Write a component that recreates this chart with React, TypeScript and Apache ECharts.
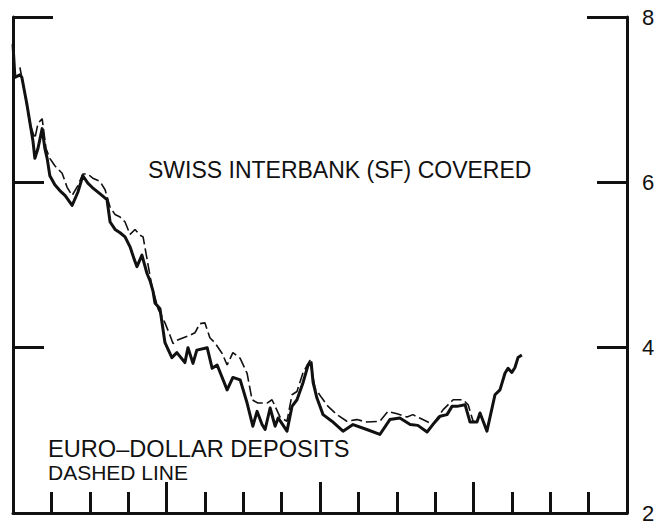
import React, { useEffect, useRef } from "react";
import * as echarts from "echarts";

// x: quarters from start (0..16), y: percent
const swissCovered: [number, number][] = [
  [0.0, 7.67], [0.05, 7.27], [0.18, 7.3], [0.23, 7.27], [0.36, 6.95], [0.52, 6.5], [0.57, 6.29],
  [0.65, 6.41], [0.76, 6.65], [0.83, 6.41], [0.89, 6.29], [0.96, 6.08], [1.09, 5.97], [1.22, 5.9],
  [1.36, 5.84], [1.54, 5.72], [1.69, 5.88], [1.82, 6.08], [1.95, 5.99], [2.06, 5.94], [2.27, 5.86],
  [2.45, 5.79], [2.53, 5.52], [2.66, 5.43], [2.79, 5.39], [2.92, 5.34], [3.05, 5.22], [3.15, 5.08],
  [3.23, 4.98], [3.36, 5.12], [3.49, 4.9], [3.57, 4.81], [3.65, 4.68], [3.7, 4.54], [3.83, 4.47],
  [3.96, 4.06], [4.14, 3.88], [4.27, 3.94], [4.48, 3.82], [4.56, 4.0], [4.69, 3.81], [4.79, 3.97],
  [5.06, 4.0], [5.19, 3.75], [5.32, 3.79], [5.58, 3.49], [5.73, 3.64], [5.92, 3.61], [6.1, 3.33],
  [6.25, 3.05], [6.36, 3.23], [6.49, 3.07], [6.57, 3.01], [6.7, 3.27], [6.83, 3.05], [6.91, 3.15],
  [7.14, 2.99], [7.27, 3.29], [7.4, 3.37], [7.56, 3.58], [7.69, 3.79], [7.77, 3.82], [7.82, 3.58],
  [7.92, 3.39], [8.08, 3.19], [8.31, 3.11], [8.6, 2.99], [8.86, 3.07], [9.22, 3.01], [9.56, 2.95],
  [9.82, 3.13], [10.08, 3.15], [10.35, 3.07], [10.55, 3.06], [10.79, 2.98], [10.94, 3.07],
  [11.13, 3.17], [11.31, 3.19], [11.44, 3.29], [11.57, 3.29], [11.78, 3.31], [11.91, 3.1],
  [12.09, 3.1], [12.17, 3.21], [12.35, 2.99], [12.56, 3.43], [12.69, 3.49], [12.82, 3.69],
  [12.9, 3.75], [13.0, 3.7], [13.08, 3.76], [13.16, 3.88], [13.26, 3.91],
];

const euroDollar: [number, number][] = [
  [0.18, 7.39], [0.31, 7.07], [0.44, 6.71], [0.57, 6.53], [0.65, 6.71], [0.76, 6.77], [0.86, 6.41],
  [0.96, 6.29], [1.09, 6.2], [1.28, 6.11], [1.41, 5.94], [1.54, 5.84], [1.69, 5.96], [1.82, 6.1],
  [1.95, 6.1], [2.08, 6.05], [2.27, 6.01], [2.4, 5.91], [2.53, 5.7], [2.66, 5.61], [2.79, 5.58],
  [2.92, 5.52], [3.05, 5.37], [3.18, 5.43], [3.31, 5.36], [3.39, 5.34], [3.49, 5.08], [3.62, 4.74],
  [3.73, 4.56], [3.78, 4.47], [3.96, 4.3], [4.09, 4.15], [4.17, 4.05], [4.27, 4.09], [4.61, 4.15],
  [4.74, 4.18], [4.87, 4.29], [5.0, 4.3], [5.13, 4.12], [5.26, 4.06], [5.45, 3.93], [5.58, 3.79],
  [5.73, 3.94], [5.92, 3.87], [6.1, 3.69], [6.23, 3.37], [6.38, 3.33], [6.62, 3.33], [6.75, 3.37],
  [6.96, 3.16], [7.14, 3.11], [7.27, 3.43], [7.4, 3.47], [7.56, 3.7], [7.74, 3.85], [7.87, 3.51],
  [8.05, 3.39], [8.21, 3.29], [8.44, 3.19], [8.7, 3.11], [8.96, 3.13], [9.22, 3.1], [9.56, 3.11],
  [9.77, 3.23], [10.01, 3.2], [10.27, 3.16], [10.42, 3.19], [10.68, 3.13], [10.94, 3.07],
  [11.21, 3.25], [11.47, 3.37], [11.73, 3.37], [11.86, 3.31], [11.99, 3.11], [12.09, 3.1],
  [12.17, 3.21], [12.35, 3.0], [12.56, 3.43], [12.69, 3.49], [12.82, 3.69], [12.9, 3.75],
  [13.0, 3.7], [13.08, 3.76], [13.16, 3.88], [13.26, 3.91],
];

const minorTicks = [1, 2, 3, 5, 6, 7, 9, 10, 11, 13, 14, 15];
const majorTicks = [4, 8, 12];
const yTicks = [4, 6];
const yTopTick = [8];

const FONT = "'Liberation Sans', Arial, Helvetica, sans-serif";

export default function App() {
  const ref = useRef<HTMLDivElement>(null);
  useEffect(() => {
    if (!ref.current) return;
    const chart = echarts.init(ref.current, undefined, { renderer: "svg" });
    const black = "#111";
    const yBase = { type: "value" as const, min: 2, max: 8, interval: 2, splitLine: { show: false } };
    const xBase = { type: "value" as const, min: 0, max: 16, interval: 1, position: "bottom" as const, splitLine: { show: false }, axisLabel: { show: false } };
    chart.setOption({
      animation: false,
      backgroundColor: "#fff",
      grid: { left: 13, right: 40, top: 17, bottom: 4, containLabel: false },
      xAxis: [
        {
          ...xBase,
          axisLine: { show: true, onZero: false, lineStyle: { color: black, width: 3 } },
          axisTick: { show: true, inside: true, length: 21, customValues: minorTicks, lineStyle: { color: black, width: 3 } },
        },
        {
          ...xBase,
          axisLine: { show: false, onZero: false },
          axisTick: { show: true, inside: true, length: 31, customValues: majorTicks, lineStyle: { color: black, width: 3 } },
        },
      ],
      yAxis: [
        {
          ...yBase, position: "right",
          axisLine: { show: true, onZero: false, lineStyle: { color: black, width: 3 } },
          axisTick: { show: true, inside: true, length: 30, customValues: yTicks, lineStyle: { color: black, width: 3 } },
          axisLabel: { show: true, color: black, fontSize: 22, fontFamily: FONT, margin: 15 },
        },
        {
          ...yBase, position: "right",
          axisLine: { show: false, onZero: false },
          axisTick: { show: true, inside: true, length: 40, customValues: yTopTick, lineStyle: { color: black, width: 3 } },
          axisLabel: { show: false },
        },
        {
          ...yBase, position: "left",
          axisLine: { show: true, onZero: false, lineStyle: { color: black, width: 3 } },
          axisTick: { show: true, inside: true, length: 31, customValues: yTicks, lineStyle: { color: black, width: 3 } },
          axisLabel: { show: false },
        },
        {
          ...yBase, position: "left",
          axisLine: { show: false, onZero: false },
          axisTick: { show: true, inside: true, length: 40, customValues: yTopTick, lineStyle: { color: black, width: 3 } },
          axisLabel: { show: false },
        },
      ],
      series: [
        {
          name: "Euro-dollar deposits", type: "line", xAxisIndex: 0, yAxisIndex: 0,
          data: euroDollar, showSymbol: false, symbol: "none",
          lineStyle: { color: black, width: 1.6, type: [11, 4] },
        },
        {
          name: "Swiss interbank (SF) covered", type: "line", xAxisIndex: 0, yAxisIndex: 0,
          data: swissCovered, showSymbol: false, symbol: "none",
          lineStyle: { color: black, width: 3, join: "round" },
        },
      ],
      graphic: [
        {
          type: "text", left: 148, top: 158,
          style: { text: "SWISS INTERBANK (SF) COVERED", fill: black, font: `23px ${FONT}` },
        },
        {
          type: "text", left: 48, top: 437,
          style: { text: "EURO–DOLLAR DEPOSITS", fill: black, font: `23.6px ${FONT}` },
        },
        {
          type: "text", left: 48, top: 462,
          style: { text: "DASHED LINE", fill: black, font: `21px ${FONT}` },
        },
      ],
    });
    return () => chart.dispose();
  }, []);
  return <div ref={ref} style={{ position: "fixed", left: 0, top: 0, width: 667, height: 524 }} />;
}
